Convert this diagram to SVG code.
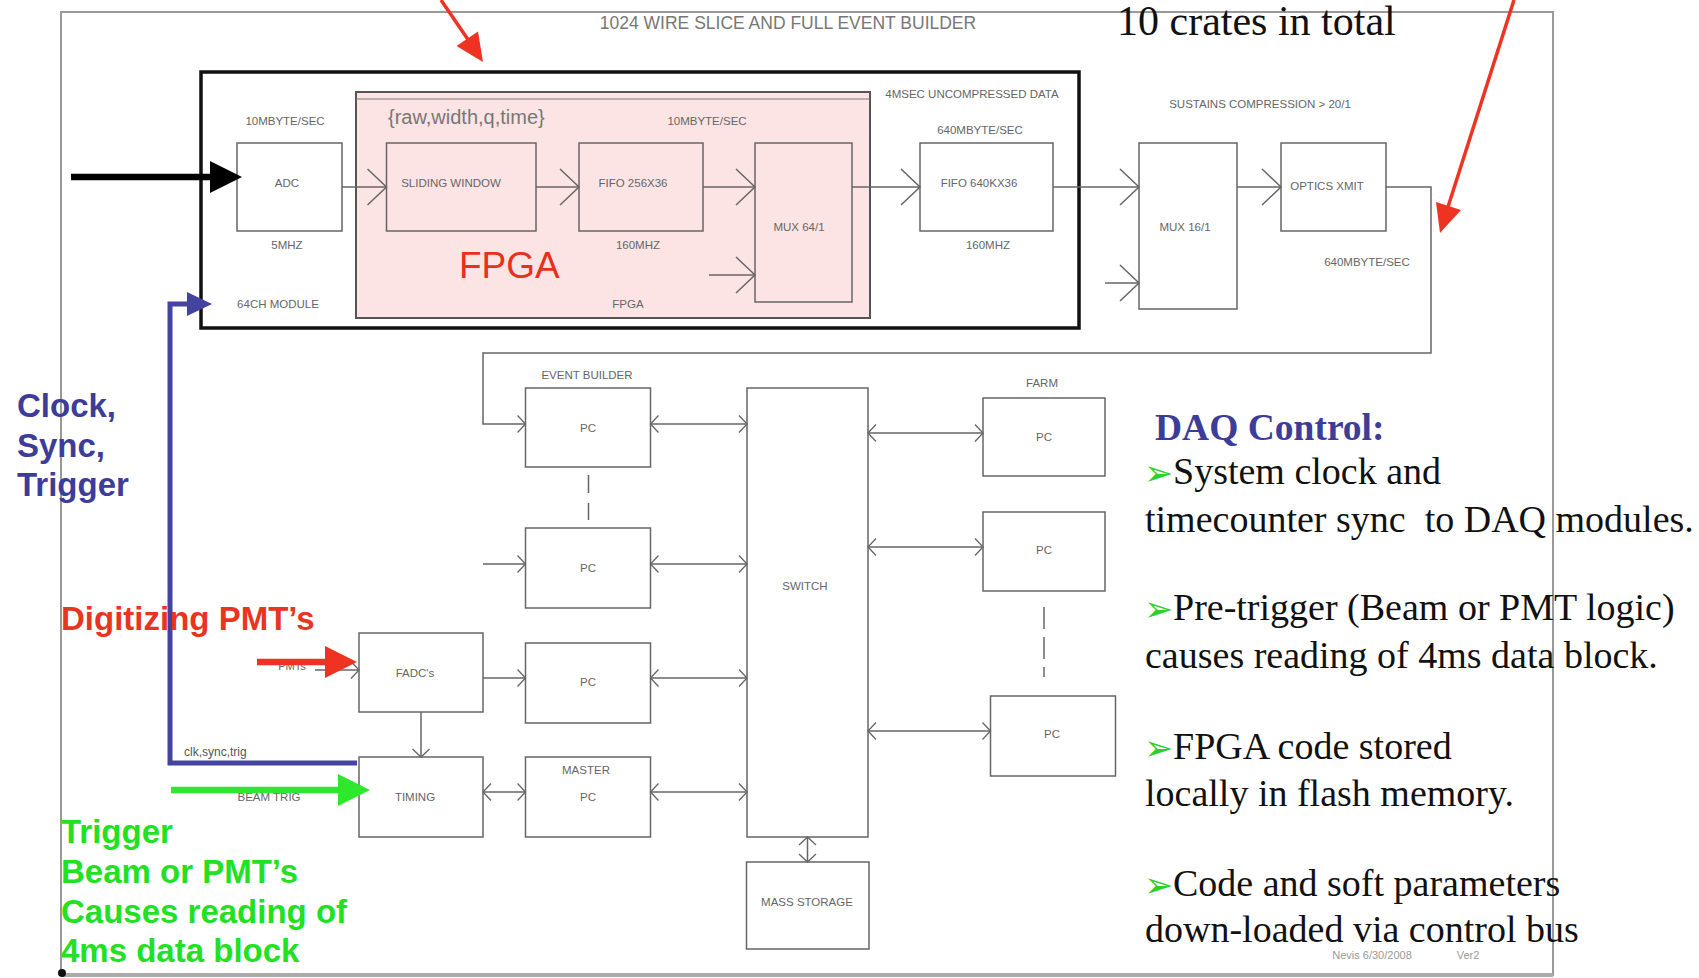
<svg xmlns="http://www.w3.org/2000/svg" width="1699" height="978" viewBox="0 0 1699 978">
<style>
.box{fill:#fff;stroke:#666;stroke-width:1.5}
.boxp{fill:none;stroke:#666;stroke-width:1.5}
.lbl{font-family:"Liberation Sans",Arial,sans-serif;font-size:11.5px;fill:#666;text-anchor:middle}
.con{fill:none;stroke:#666;stroke-width:1.5}
.big{font-family:"Liberation Sans",Arial,sans-serif;font-weight:bold;font-size:33px}
.ser{font-family:"Liberation Serif","Times New Roman",serif;font-size:38px;fill:#111}
.bul{font-family:"DejaVu Sans",sans-serif;font-size:35px;fill:#2cd12c}
</style>
<defs>
<marker id="vb" markerUnits="userSpaceOnUse" markerWidth="24" markerHeight="40" viewBox="0 0 24 40" refX="21" refY="20" orient="auto-start-reverse"><path d="M2,2 L21,20 L2,38" fill="none" stroke="#666" stroke-width="1.5"/></marker>
<marker id="vs" markerUnits="userSpaceOnUse" markerWidth="12" markerHeight="20" viewBox="0 0 12 20" refX="10" refY="10" orient="auto-start-reverse"><path d="M2,1.5 L10,10 L2,18.5" fill="none" stroke="#666" stroke-width="1.3"/></marker>
</defs>
<rect width="1699" height="978" fill="#fff"/>

<g id="frame">
<rect x="61" y="12" width="1492" height="963" fill="none" stroke="#999" stroke-width="2"/>
<line x1="61" y1="975" x2="1553" y2="975" stroke="#aaa" stroke-width="4"/>
<circle cx="62" cy="973" r="4" fill="#111"/>
<text x="788" y="29" font-family="Liberation Sans,Arial,sans-serif" font-size="17.5" fill="#777" text-anchor="middle">1024 WIRE SLICE AND FULL EVENT BUILDER</text>
<text x="1372" y="959" class="lbl" style="fill:#999;font-size:11px">Nevis 6/30/2008</text>
<text x="1468" y="959" class="lbl" style="fill:#999;font-size:11px">Ver2</text>
</g>

<g id="crate">
<rect x="201" y="72" width="878" height="256" fill="none" stroke="#111" stroke-width="3.5"/>
<text x="278" y="308" class="lbl">64CH MODULE</text>
<text x="972" y="98" class="lbl">4MSEC UNCOMPRESSED DATA</text>
</g>

<g id="fpga">
<rect x="356" y="92" width="514" height="226" fill="#fde4e4" stroke="#555" stroke-width="2"/>
<line x1="356" y1="99" x2="870" y2="99" stroke="#777" stroke-width="1"/>
<text x="388" y="124" font-family="Liberation Sans,Arial,sans-serif" font-size="20" fill="#777">{raw,width,q,time}</text>
<text x="707" y="125" class="lbl">10MBYTE/SEC</text>
<text x="459" y="278" font-family="Liberation Sans,Arial,sans-serif" font-size="37" fill="#e8301f">FPGA</text>
<text x="628" y="308" class="lbl">FPGA</text>
</g>

<g id="adc">
<rect x="237" y="143" width="105" height="88" class="box"/>
<text x="285" y="125" class="lbl">10MBYTE/SEC</text>
<text x="287" y="187" class="lbl">ADC</text>
<text x="287" y="249" class="lbl">5MHZ</text>
</g>
<g id="sliding-window">
<rect x="386.5" y="143" width="149.5" height="88" class="boxp"/>
<text x="451" y="187" class="lbl">SLIDING WINDOW</text>
</g>
<g id="fifo-256x36">
<rect x="579" y="143" width="124" height="88" class="boxp"/>
<text x="633" y="187" class="lbl">FIFO 256X36</text>
<text x="638" y="249" class="lbl">160MHZ</text>
</g>
<g id="mux-64">
<rect x="755" y="143" width="97" height="159" class="boxp"/>
<text x="799" y="231" class="lbl">MUX 64/1</text>
</g>
<g id="fifo-640kx36">
<rect x="920" y="143" width="133" height="88" class="box"/>
<text x="980" y="134" class="lbl">640MBYTE/SEC</text>
<text x="979" y="187" class="lbl">FIFO 640KX36</text>
<text x="988" y="249" class="lbl">160MHZ</text>
</g>
<g id="mux-16">
<rect x="1139" y="143" width="98" height="166" class="box"/>
<text x="1260" y="108" class="lbl">SUSTAINS COMPRESSION &gt; 20/1</text>
<text x="1185" y="231" class="lbl">MUX 16/1</text>
</g>
<g id="optics-xmit">
<rect x="1281" y="143" width="105" height="88" class="box"/>
<text x="1327" y="190" class="lbl">OPTICS XMIT</text>
<text x="1367" y="266" class="lbl">640MBYTE/SEC</text>
</g>

<g id="eb-pc1">
<text x="587" y="379" class="lbl">EVENT BUILDER</text>
<rect x="525.5" y="388" width="125" height="79" class="box"/>
<text x="588" y="432" class="lbl">PC</text>
</g>
<g id="eb-pc2">
<rect x="525.5" y="528" width="125" height="80" class="box"/>
<text x="588" y="572" class="lbl">PC</text>
</g>
<g id="eb-pc3">
<rect x="525.5" y="643" width="125" height="80" class="box"/>
<text x="588" y="686" class="lbl">PC</text>
</g>
<g id="master-pc">
<rect x="525.5" y="757" width="125" height="80" class="box"/>
<text x="586" y="774" class="lbl">MASTER</text>
<text x="588" y="801" class="lbl">PC</text>
</g>
<g id="switch">
<rect x="747" y="388" width="121" height="449" class="box"/>
<text x="805" y="590" class="lbl">SWITCH</text>
</g>
<g id="mass-storage">
<rect x="746.5" y="862" width="122.5" height="87" class="box"/>
<text x="807" y="906" class="lbl">MASS STORAGE</text>
</g>
<g id="farm-pc1">
<text x="1042" y="387" class="lbl">FARM</text>
<rect x="983" y="398" width="122" height="78" class="box"/>
<text x="1044" y="441" class="lbl">PC</text>
</g>
<g id="farm-pc2">
<rect x="983" y="512" width="122" height="79" class="box"/>
<text x="1044" y="554" class="lbl">PC</text>
</g>
<g id="farm-pc3">
<rect x="990.5" y="696" width="125" height="80" class="box"/>
<text x="1052" y="738" class="lbl">PC</text>
</g>
<g id="fadcs">
<rect x="359" y="633" width="124" height="79" class="box"/>
<text x="415" y="677" class="lbl">FADC's</text>
</g>
<g id="timing">
<rect x="359" y="757" width="124" height="80" class="box"/>
<text x="415" y="801" class="lbl">TIMING</text>
</g>

<g id="connectors">
<path class="con" d="M342,187 H386.5" marker-end="url(#vb)"/>
<path class="con" d="M536,187 H579" marker-end="url(#vb)"/>
<path class="con" d="M703,187 H755" marker-end="url(#vb)"/>
<path class="con" d="M709,275 H755" marker-end="url(#vb)"/>
<path class="con" d="M852,187 H920" marker-end="url(#vb)"/>
<path class="con" d="M1053,187 H1139" marker-end="url(#vb)"/>
<path class="con" d="M1105,283 H1139" marker-end="url(#vb)"/>
<path class="con" d="M1237,187 H1281" marker-end="url(#vb)"/>
<path class="con" d="M1386,187 H1431 V353 H483 V424 H525.5" marker-end="url(#vs)"/>
<path class="con" d="M483,564 H525.5" marker-end="url(#vs)"/>
<path class="con" d="M483,678 H525.5" marker-end="url(#vs)"/>
<path class="con" d="M421,712 V757" marker-end="url(#vs)"/>
<path class="con" d="M315,670 H359" marker-end="url(#vs)"/>
<path class="con" d="M650.5,424 H747" marker-start="url(#vs)" marker-end="url(#vs)"/>
<path class="con" d="M650.5,564 H747" marker-start="url(#vs)" marker-end="url(#vs)"/>
<path class="con" d="M650.5,678 H747" marker-start="url(#vs)" marker-end="url(#vs)"/>
<path class="con" d="M650.5,792 H747" marker-start="url(#vs)" marker-end="url(#vs)"/>
<path class="con" d="M483,792 H525.5" marker-start="url(#vs)" marker-end="url(#vs)"/>
<path class="con" d="M868,433 H983" marker-start="url(#vs)" marker-end="url(#vs)"/>
<path class="con" d="M868,547 H983" marker-start="url(#vs)" marker-end="url(#vs)"/>
<path class="con" d="M868,731 H990.5" marker-start="url(#vs)" marker-end="url(#vs)"/>
<path class="con" d="M807.5,837 V862" marker-start="url(#vs)" marker-end="url(#vs)"/>
<path class="con" d="M588.5,475 V520" stroke-dasharray="18 10"/>
<path class="con" d="M1044,607 V677" stroke-dasharray="22 8"/>
<text x="292" y="670" class="lbl" style="font-size:11px">PMTs</text>
<text x="184" y="756" font-family="Liberation Sans,Arial,sans-serif" font-size="12" fill="#555">clk,sync,trig</text>
<text x="269" y="801" class="lbl">BEAM TRIG</text>

<line x1="441" y1="0" x2="469" y2="41" stroke="#ee3322" stroke-width="3.5"/>
<polygon points="456.5,46 483,62 478,31.5" fill="#ee3322"/>
<line x1="1514" y1="0" x2="1447" y2="210" stroke="#ee3322" stroke-width="3.5"/>
<polygon points="1461,210 1440,233 1436,202" fill="#ee3322"/>
<line x1="71" y1="177" x2="214" y2="177" stroke="#000" stroke-width="6.5"/>
<polygon points="210,161 242,177 210,193" fill="#000"/>
<path d="M357,763 H170 V304 H190" fill="none" stroke="#4444a0" stroke-width="5"/>
<polygon points="187,292 212,304 187,316" fill="#4444a0"/>
<line x1="257" y1="662" x2="328" y2="662" stroke="#ee3322" stroke-width="6.5"/>
<polygon points="325,646 357,662 325,678" fill="#ee3322"/>
<line x1="171" y1="790" x2="341" y2="790" stroke="#2ee82e" stroke-width="6.5"/>
<polygon points="338,774 370,790 338,806" fill="#2ee82e"/>
</g>

<g id="annotations">
<text x="1117" y="35" font-family="Liberation Serif,Times New Roman,serif" font-size="42" fill="#111">10 crates in total</text>
<text class="big" fill="#3d3d99"><tspan x="17" y="417">Clock,</tspan><tspan x="17" y="457">Sync,</tspan><tspan x="17" y="496">Trigger</tspan></text>
<text class="big" x="61" y="630" fill="#e8351f">Digitizing PMT’s</text>
<text class="big" fill="#22e022"><tspan x="61" y="843">Trigger</tspan><tspan x="61" y="883">Beam or PMT’s</tspan><tspan x="61" y="923">Causes reading of</tspan><tspan x="61" y="962">4ms data block</tspan></text>
</g>

<g id="daq-control">
<text x="1155" y="440" font-family="Liberation Serif,Times New Roman,serif" font-weight="bold" font-size="37.5" fill="#3d3d99">DAQ Control:</text>
<text x="1144" y="485" class="bul">➢</text>
<text x="1173" y="484" class="ser">System clock and</text>
<text x="1145" y="532" class="ser" xml:space="preserve">timecounter sync  to DAQ modules.</text>
<text x="1144" y="621" class="bul">➢</text>
<text x="1173" y="620" class="ser">Pre-trigger (Beam or PMT logic)</text>
<text x="1145" y="668" class="ser">causes reading of 4ms data block.</text>
<text x="1144" y="760" class="bul">➢</text>
<text x="1173" y="759" class="ser">FPGA code stored</text>
<text x="1145" y="806" class="ser">locally in flash memory.</text>
<text x="1144" y="897" class="bul">➢</text>
<text x="1173" y="896" class="ser">Code and soft parameters</text>
<text x="1145" y="942" class="ser">down-loaded via control bus</text>
</g>
</svg>
